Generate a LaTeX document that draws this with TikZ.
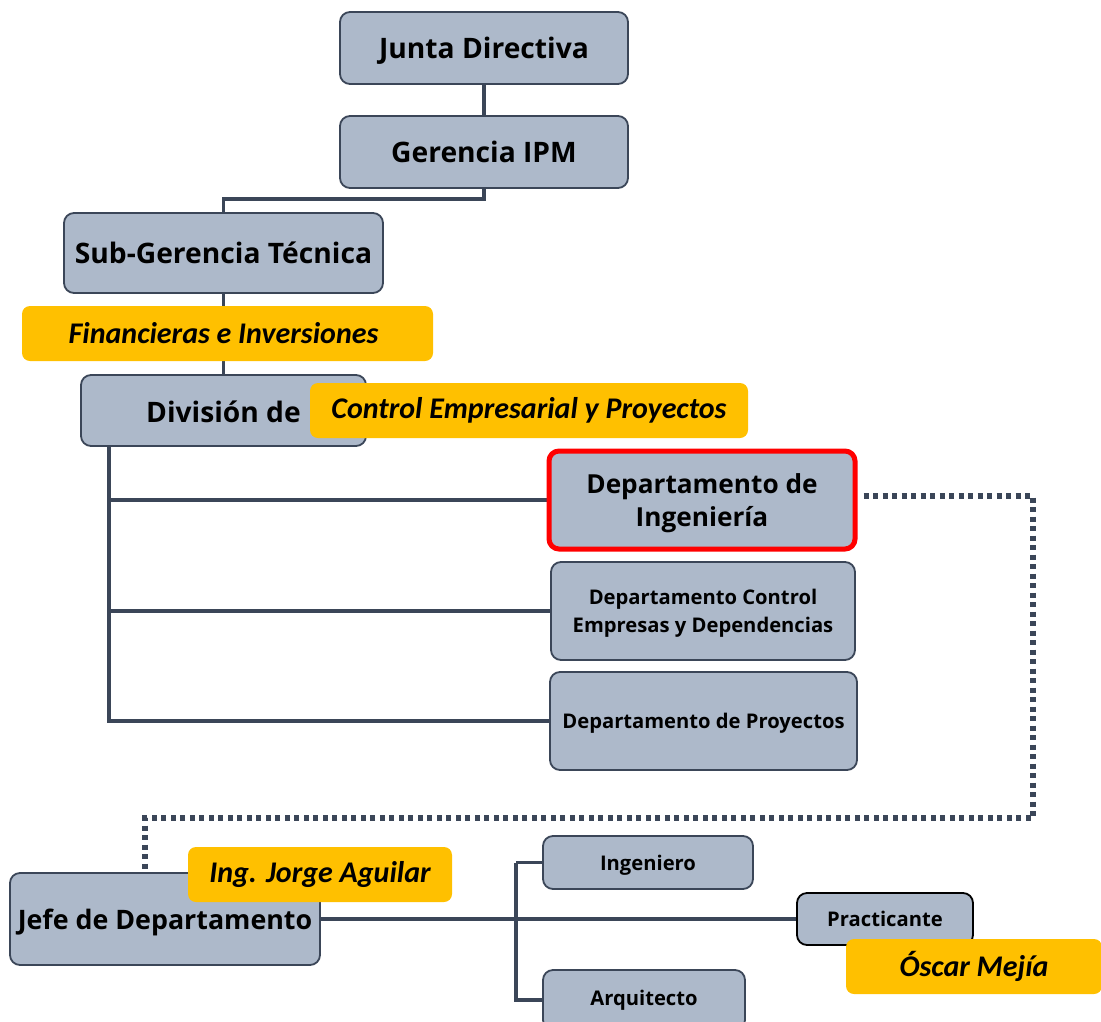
\documentclass[tikz,border=0pt]{standalone}
\usepackage{fontspec}
\setmainfont{Open Sans}
\newfontfamily\labfont{Carlito}
\usetikzlibrary{backgrounds,calc}
\definecolor{boxfill}{HTML}{ADB9CA}
\definecolor{boxline}{HTML}{3B4658}
\definecolor{ylw}{HTML}{FFC000}
\definecolor{redline}{HTML}{FF0000}
\begin{document}
\begin{tikzpicture}[x=1pt,y=-1pt,
  box/.style={draw=boxline,line width=1.8pt,fill=boxfill,rounded corners=10pt,
    align=center,inner sep=0pt,text depth=0pt},
  big/.style={font=\bfseries\fontsize{28.2}{33}\selectfont},
  med/.style={font=\bfseries\fontsize{20.2}{28}\selectfont},
  lab/.style={fill=ylw,rounded corners=8pt,inner sep=0pt,
    font=\labfont\bfseries\itshape\fontsize{30}{34}\selectfont},
  conn/.style={draw=boxline,line width=3.5pt},
  dots/.style={draw=boxline,line width=5.5pt,dash pattern=on 5pt off 4.5pt}]
\useasboundingbox (0,0) rectangle (1101,1021);
\clip (0,0) rectangle (1101,1021);
% nodes
\node[box,big,minimum width=288pt,minimum height=72pt] (jd) at (484,48) {Junta Directiva};
\node[box,big,minimum width=288pt,minimum height=72pt] (ger) at (484,152) {Gerencia IPM};
\node[box,big,minimum width=319pt,minimum height=80pt] (sub) at (223.5,253) {Sub-Gerencia Técnica};
\node[lab,minimum width=411pt,minimum height=55pt] (fin) at (227.5,333.5) {Financieras e Inversiones\hspace*{8pt}};
\node[box,minimum width=285pt,minimum height=71pt] (div) at (223.5,410.5) {};
\node[big,anchor=east,inner sep=0pt,text depth=0pt] (divt) at (301,412) {División de};
\node[lab,minimum width=438pt,minimum height=55pt] (cep) at (529,410.5) {Control Empresarial y Proyectos};
\node[box,draw=redline,line width=5pt,minimum width=306pt,minimum height=98pt,font=\bfseries\fontsize{26.2}{33}\selectfont] (ing) at (702,500) {Departamento de\\Ingeniería};
\node[box,med,minimum width=304pt,minimum height=98pt] (ctl) at (703,611) {Departamento Control\\Empresas y Dependencias};
\node[box,med,minimum width=307pt,minimum height=98pt] (pro) at (703.5,721) {Departamento de Proyectos};
\node[box,minimum width=310pt,minimum height=92pt,font=\bfseries\fontsize{26.8}{32}\selectfont] (jefe) at (165,919) {Jefe de Departamento};
\node[lab,minimum width=264pt,minimum height=55pt] (jorge) at (320,874.5) {Ing. Jorge Aguilar};
\node[box,med,minimum width=210pt,minimum height=53pt] (ingr) at (648,862.5) {Ingeniero};
\node[box,med,draw=black,minimum width=176pt,minimum height=52pt] (prac) at (885,919) {Practicante};
\node[box,minimum width=202pt,minimum height=60pt] (arq) at (644,1000) {};
\node[med,inner sep=0pt,text depth=0pt] (arqt) at (644,998) {Arquitecto};
\node[lab,minimum width=256pt,minimum height=55pt] (oscar) at (974,966.5) {Óscar Mejía};
\coordinate (trunk) at (109,446);
\coordinate (t2) at (516,919);
\coordinate (dcorner) at (1033,818);
\coordinate (dend) at (145,873);
\begin{scope}[on background layer]
\draw[conn] (jd) -- (ger);
\draw[conn] (ger.south) -- ++(0,10) -| (sub.north);
\draw[conn] (sub.south) -- (sub.south |- fin.north);
\draw[conn] (sub.south |- fin.south) -- (sub.south |- div.north);
\draw[conn] (trunk) |- (ing.west);
\draw[conn] (trunk) |- (ctl.west);
\draw[conn] (trunk) |- (pro.west);
\draw[dots] ([yshift=4pt]ing.east) ++(6,0) -| (dcorner) -| (dend);
\draw[conn] (jefe.east) -- (prac.west);
\draw[conn] (t2 |- ingr.west) -- (ingr.west);
\draw[conn] (t2 |- ingr.west) -- (t2 |- arq.west) -- (arq.west);
\end{scope}
\end{tikzpicture}
\end{document}
